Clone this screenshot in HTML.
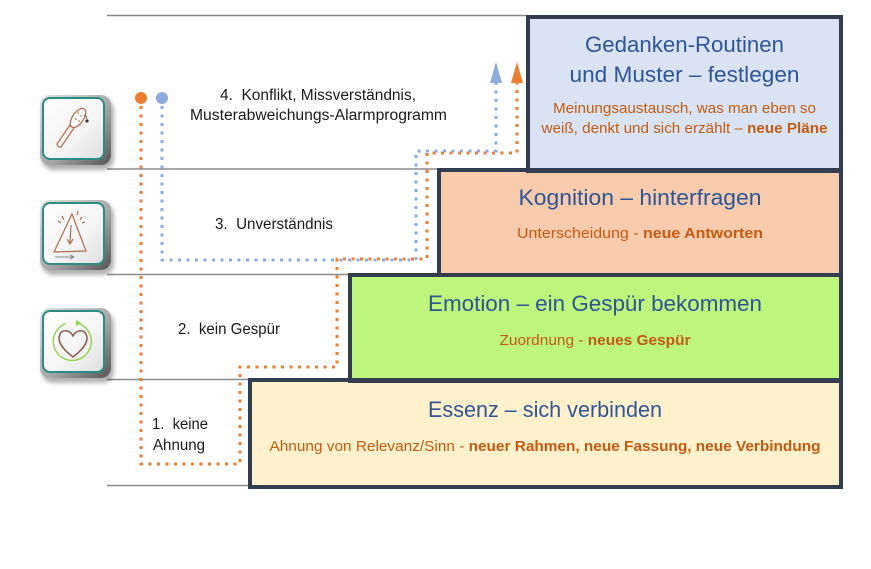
<!DOCTYPE html>
<html>
<head>
<meta charset="utf-8">
<style>
html,body{margin:0;padding:0;background:#fff;}
body{width:871px;height:569px;overflow:hidden;}
svg{display:block;}
text{font-family:"Liberation Sans",Arial,sans-serif;}
</style>
</head>
<body>
<svg width="871" height="569" viewBox="0 0 871 569" xmlns="http://www.w3.org/2000/svg">
<defs>
  <linearGradient id="face" x1="0" y1="0" x2="1" y2="1">
    <stop offset="0" stop-color="#ffffff"/>
    <stop offset="0.6" stop-color="#f4f4f4"/>
    <stop offset="1" stop-color="#dedede"/>
  </linearGradient>
  <linearGradient id="bevel" x1="0" y1="0" x2="1" y2="1">
    <stop offset="0" stop-color="#e2e2e2"/>
    <stop offset="0.55" stop-color="#a8a8a8"/>
    <stop offset="1" stop-color="#555555"/>
  </linearGradient>
  <filter id="blur" x="-20%" y="-20%" width="140%" height="140%"><feGaussianBlur stdDeviation="2"/></filter>
</defs>

<!-- gray row lines -->
<g stroke="#8a8a8a" stroke-width="1.5">
  <line x1="107" y1="15.5" x2="527" y2="15.5"/>
  <line x1="107" y1="169" x2="438" y2="169"/>
  <line x1="107" y1="274.5" x2="349" y2="274.5"/>
  <line x1="107" y1="379.5" x2="249" y2="379.5"/>
  <line x1="107" y1="485.5" x2="249" y2="485.5"/>
</g>

<!-- boxes fills -->
<rect x="250" y="380" width="591" height="107" fill="#fff1cc"/>
<rect x="350" y="275" width="491" height="106" fill="#bdf57d"/>
<rect x="439" y="170" width="402" height="105" fill="#f8cbad"/>
<rect x="528" y="17" width="313" height="154" fill="#dae3f3"/>
<!-- boxes borders -->
<g fill="none" stroke="#323e50" stroke-width="4">
  <rect x="250" y="380" width="591" height="107"/>
  <rect x="350" y="275" width="491" height="106"/>
  <rect x="439" y="170" width="402" height="105"/>
  <rect x="528" y="17" width="313" height="154"/>
</g>

<!-- box texts -->
<g text-anchor="middle">
  <text x="684.5" y="52" font-size="22" fill="#2f5597" textLength="199" lengthAdjust="spacingAndGlyphs">Gedanken-Routinen</text>
  <text x="684.5" y="82" font-size="22" fill="#2f5597" textLength="230" lengthAdjust="spacingAndGlyphs">und Muster – festlegen</text>
  <text x="684.5" y="113" font-size="15" fill="#c55a11" textLength="263" lengthAdjust="spacingAndGlyphs">Meinungsaustausch, was man eben so</text>
  <text x="684.5" y="133" font-size="15" fill="#c55a11" textLength="286" lengthAdjust="spacingAndGlyphs">weiß, denkt und sich erzählt – <tspan font-weight="bold">neue Pläne</tspan></text>

  <text x="640" y="205" font-size="22" fill="#2f5597" textLength="243" lengthAdjust="spacingAndGlyphs">Kognition – hinterfragen</text>
  <text x="640" y="238" font-size="15" fill="#c55a11" textLength="246" lengthAdjust="spacingAndGlyphs">Unterscheidung - <tspan font-weight="bold">neue Antworten</tspan></text>

  <text x="595" y="311" font-size="22" fill="#2f5597" textLength="334" lengthAdjust="spacingAndGlyphs">Emotion – ein Gespür bekommen</text>
  <text x="595" y="345" font-size="15" fill="#c55a11" textLength="191" lengthAdjust="spacingAndGlyphs">Zuordnung - <tspan font-weight="bold">neues Gespür</tspan></text>

  <text x="545" y="417" font-size="22" fill="#2f5597" textLength="234" lengthAdjust="spacingAndGlyphs">Essenz – sich verbinden</text>
  <text x="545" y="451" font-size="15" fill="#c55a11" textLength="551" lengthAdjust="spacingAndGlyphs">Ahnung von Relevanz/Sinn - <tspan font-weight="bold">neuer Rahmen, neue Fassung, neue Verbindung</tspan></text>
</g>

<!-- left labels -->
<g font-size="15.5" fill="#1a1a1a">
  <text x="220" y="100" textLength="196" lengthAdjust="spacingAndGlyphs">4.&#160; Konflikt, Missverständnis,</text>
  <text x="190" y="120" textLength="257" lengthAdjust="spacingAndGlyphs">Musterabweichungs-Alarmprogramm</text>
  <text x="215" y="229" textLength="118" lengthAdjust="spacingAndGlyphs">3.&#160; Unverständnis</text>
  <text x="178" y="334" textLength="102" lengthAdjust="spacingAndGlyphs">2.&#160; kein Gespür</text>
  <text x="152" y="429" textLength="56" lengthAdjust="spacingAndGlyphs">1.&#160; keine</text>
  <text x="153" y="450" textLength="52" lengthAdjust="spacingAndGlyphs">Ahnung</text>
</g>

<!-- dotted paths -->
<path d="M141 106 V464 H240 V367 H337 V259 H427 V153 H517 V82" fill="none" stroke="#ed7d31" stroke-width="3" stroke-dasharray="3 5.5"/>
<path d="M162 106 V260 H416 V151 H496 V82" fill="none" stroke="#8faadc" stroke-width="3" stroke-dasharray="3 5.5"/>
<circle cx="141" cy="98" r="6" fill="#ed7d31"/>
<circle cx="162" cy="98" r="6" fill="#8faadc"/>
<polygon points="496,62 490,83 502,83" fill="#8faadc"/>
<polygon points="517,62 511,83 523,83" fill="#ed7d31"/>

<!-- icon 1 -->
<g>
  <rect x="42" y="99" width="72" height="71" rx="11" fill="#000" opacity="0.3" filter="url(#blur)"/>
  <rect x="40" y="95" width="71" height="70" rx="10" fill="url(#bevel)"/>
  <rect x="43" y="98" width="61" height="61" rx="7" fill="url(#face)" stroke="#2b8c82" stroke-width="2"/>
  <g fill="none" stroke="#b06a48" stroke-width="1.2">
    <ellipse cx="78" cy="118" rx="5.5" ry="11" transform="rotate(35 78 118)"/>
    <path d="M70 125 L57 144 Q58 148 61 147 L74 128"/>
  </g>
  <g fill="#b06a48"><circle cx="78" cy="113" r="0.8"/><circle cx="81" cy="116" r="0.8"/><circle cx="76" cy="119" r="0.8"/><circle cx="79" cy="121" r="0.8"/></g>
  <circle cx="87" cy="121" r="1.6" fill="#333"/>
  <path d="M84 116 Q86 114 87 119" fill="none" stroke="#555" stroke-width="0.8"/>
</g>

<!-- icon 2 -->
<g transform="translate(0,105)">
  <rect x="42" y="99" width="72" height="71" rx="11" fill="#000" opacity="0.3" filter="url(#blur)"/>
  <rect x="40" y="95" width="71" height="70" rx="10" fill="url(#bevel)"/>
  <rect x="43" y="98" width="61" height="61" rx="7" fill="url(#face)" stroke="#2b8c82" stroke-width="2"/>
  <g fill="none" stroke="#b06a48" stroke-width="1.2">
    <path d="M72 109 L54 147 L86 146 Z"/>
    <path d="M71 120 L70 138 M67 134 L70 139 L73 134"/>
    <path d="M62 111 L64 115 M58 116 L61 118 M78 106 L77 110 M82 112 L80 115 M85 117 L82 118"/>
  </g>
  <path d="M55 152 L73 152 M70 150 L74 152 L70 154" fill="none" stroke="#888" stroke-width="1"/>
</g>

<!-- icon 3 -->
<g transform="translate(0,213)">
  <rect x="42" y="99" width="72" height="71" rx="11" fill="#000" opacity="0.3" filter="url(#blur)"/>
  <rect x="40" y="95" width="71" height="70" rx="10" fill="url(#bevel)"/>
  <rect x="43" y="98" width="61" height="61" rx="7" fill="url(#face)" stroke="#2b8c82" stroke-width="2"/>
  <path d="M73 144 C61 135 57 127 60 121 C63 116 70 117 73 123 C76 117 83 116 86 121 C89 127 85 135 73 144 Z" fill="none" stroke="#8b5a4a" stroke-width="1.5"/>
  <path d="M77 110 A19 19 0 1 1 66 110.5" fill="none" stroke="#8fd14f" stroke-width="1.4"/>
  <polygon points="81,110 76,107 76,113" fill="#8fd14f"/>
</g>
</svg>
</body>
</html>
